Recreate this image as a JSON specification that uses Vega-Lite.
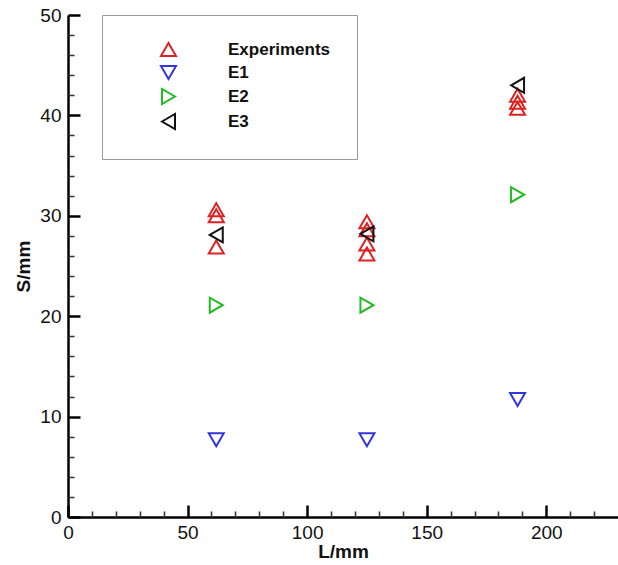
{
  "$schema": "https://vega.github.io/schema/vega-lite/v6.json",
  "width": 550,
  "height": 502,
  "autosize": "none",
  "padding": {"left": 68, "top": 15, "right": 0, "bottom": 48},
  "background": "white",
  "config": {"view": {"stroke": null}, "font": "Liberation Sans"},
  "data": {
    "values": [
      {"L": 62, "S": 30.6, "series": "Experiments"},
      {"L": 62, "S": 30.0, "series": "Experiments"},
      {"L": 62, "S": 26.9, "series": "Experiments"},
      {"L": 125, "S": 29.4, "series": "Experiments"},
      {"L": 125, "S": 28.6, "series": "Experiments"},
      {"L": 125, "S": 27.2, "series": "Experiments"},
      {"L": 125, "S": 26.2, "series": "Experiments"},
      {"L": 188, "S": 42.0, "series": "Experiments"},
      {"L": 188, "S": 41.3, "series": "Experiments"},
      {"L": 188, "S": 40.7, "series": "Experiments"},
      {"L": 62, "S": 7.7, "series": "E1"},
      {"L": 125, "S": 7.7, "series": "E1"},
      {"L": 188, "S": 11.7, "series": "E1"},
      {"L": 62, "S": 21.1, "series": "E2"},
      {"L": 125, "S": 21.1, "series": "E2"},
      {"L": 188, "S": 32.1, "series": "E2"},
      {"L": 62, "S": 28.1, "series": "E3"},
      {"L": 125, "S": 28.2, "series": "E3"},
      {"L": 188, "S": 43.0, "series": "E3"}
    ]
  },
  "layer": [
    {
      "mark": {"type": "point", "filled": false, "strokeWidth": 2, "size": 225, "opacity": 1},
      "encoding": {
        "x": {
          "field": "L", "type": "quantitative",
          "scale": {"domain": [0, 230], "nice": false, "zero": false},
          "axis": {
            "orient": "bottom",
            "values": [0, 50, 100, 150, 200],
            "tickSize": -12, "tickWidth": 2.5, "tickColor": "black",
            "domainColor": "black", "domainWidth": 2.5,
            "labelPadding": 18, "labelFontSize": 19, "labelFont": "Liberation Sans", "labelColor": "#111",
            "labelFlush": false, "labelOverlap": false,
            "grid": false,
            "title": "L/mm", "titleFontSize": 19, "titleFont": "Liberation Sans", "titleFontWeight": "bold", "titleColor": "#111", "titlePadding": 0
          }
        },
        "y": {
          "field": "S", "type": "quantitative",
          "scale": {"domain": [0, 50], "nice": false, "zero": false},
          "axis": {
            "orient": "left",
            "values": [0, 10, 20, 30, 40, 50],
            "tickSize": -12, "tickWidth": 2.5, "tickColor": "black",
            "domainColor": "black", "domainWidth": 2.5,
            "labelPadding": 19, "labelFontSize": 19, "labelFont": "Liberation Sans", "labelColor": "#111",
            "labelFlush": false, "labelOverlap": false,
            "grid": false,
            "title": "S/mm", "titleFontSize": 19, "titleFont": "Liberation Sans", "titleFontWeight": "bold", "titleColor": "#111", "titlePadding": 6
          }
        },
        "color": {
          "field": "series", "type": "nominal",
          "scale": {"domain": ["Experiments", "E1", "E2", "E3"], "range": ["#dd2222", "#3535dd", "#22bb22", "#111111"]},
          "legend": {
            "orient": "none", "legendX": 34, "legendY": 0, "title": null,
            "padding": 26, "strokeColor": "#999999", "fillColor": "white",
            "symbolSize": 225, "symbolStrokeWidth": 2, "symbolOffset": 32, "labelOffset": 51,
            "labelFontSize": 17, "labelFont": "Liberation Sans", "labelFontWeight": "bold", "labelColor": "#111", "rowPadding": 2
          }
        },
        "shape": {
          "field": "series", "type": "nominal",
          "scale": {"domain": ["Experiments", "E1", "E2", "E3"], "range": ["triangle-up", "triangle-down", "triangle-right", "triangle-left"]},
          "legend": {
            "orient": "none", "legendX": 34, "legendY": 0, "title": null,
            "padding": 26, "strokeColor": "#999999", "fillColor": "white",
            "symbolSize": 225, "symbolStrokeWidth": 2, "symbolOffset": 32, "labelOffset": 51,
            "labelFontSize": 17, "labelFont": "Liberation Sans", "labelFontWeight": "bold", "labelColor": "#111", "rowPadding": 2
          }
        }
      }
    },
    {
      "mark": {"type": "point", "opacity": 0},
      "encoding": {
        "x": {
          "field": "L", "type": "quantitative",
          "axis": {
            "orient": "bottom",
            "values": [10, 20, 30, 40, 60, 70, 80, 90, 110, 120, 130, 140, 160, 170, 180, 190, 210, 220],
            "tickSize": -6, "tickWidth": 1.5, "tickColor": "#333",
            "domain": false, "labels": false, "grid": false, "title": null
          }
        },
        "y": {
          "field": "S", "type": "quantitative",
          "axis": {
            "orient": "left",
            "values": [2, 4, 6, 8, 12, 14, 16, 18, 22, 24, 26, 28, 32, 34, 36, 38, 42, 44, 46, 48],
            "tickSize": -6, "tickWidth": 1.5, "tickColor": "#333",
            "domain": false, "labels": false, "grid": false, "title": null
          }
        }
      }
    }
  ],
  "resolve": {"axis": {"x": "independent", "y": "independent"}}
}
